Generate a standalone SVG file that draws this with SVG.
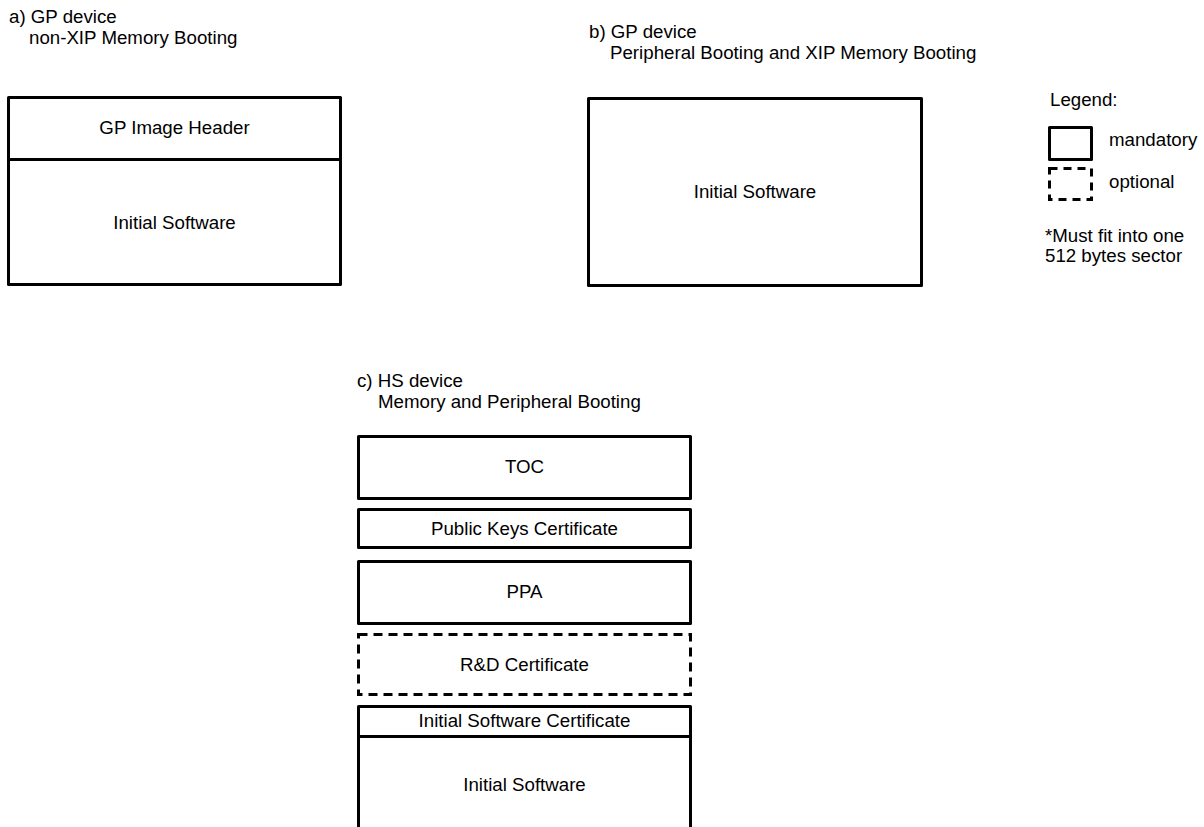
<svg xmlns="http://www.w3.org/2000/svg" width="1204" height="827" viewBox="0 0 1204 827">
<style>
text{font-family:"Liberation Sans",Arial,sans-serif;font-size:18.7px;fill:#000}
.c{text-anchor:middle}
.box{fill:#fff;stroke:#000;stroke-width:3;stroke-linejoin:round}
.dash{fill:#fff;stroke:#000;stroke-width:3;stroke-dasharray:9 6}
.ln{stroke:#000;stroke-width:3}
</style>
<rect width="1204" height="827" fill="#fff"/>
<g id="title-a">
<text x="9" y="23">a) GP device</text>
<text x="29" y="44">non-XIP Memory Booting</text>
</g>
<g id="title-b">
<text x="589" y="38">b) GP device</text>
<text x="610" y="59">Peripheral Booting and XIP Memory Booting</text>
</g>
<g id="title-c">
<text x="357" y="387">c) HS device</text>
<text x="378" y="408">Memory and Peripheral Booting</text>
</g>
<g id="node-a">
<rect class="box" x="8.5" y="97.5" width="332" height="187"/>
<line class="ln" x1="8.5" y1="159.5" x2="340.5" y2="159.5"/>
<text class="c" x="174.5" y="134">GP Image Header</text>
<text class="c" x="174.5" y="229">Initial Software</text>
</g>
<g id="node-b">
<rect class="box" x="588.5" y="98.5" width="333" height="187"/>
<text class="c" x="755" y="198">Initial Software</text>
</g>
<g id="legend">
<text x="1050" y="106">Legend:</text>
<rect class="box" x="1049.5" y="127.5" width="42" height="32"/>
<text x="1109" y="146">mandatory</text>
<rect class="dash" x="1049.5" y="168.5" width="42" height="31" style="stroke-dasharray:8 6"/>
<text x="1109" y="188">optional</text>
<text x="1045" y="242">*Must fit into one</text>
<text x="1045" y="262">512 bytes sector</text>
</g>
<g id="node-toc">
<rect class="box" x="358.5" y="436.5" width="332" height="62"/>
<text class="c" x="524.5" y="473">TOC</text>
</g>
<g id="node-pkc">
<rect class="box" x="358.5" y="509.5" width="332" height="38"/>
<text class="c" x="524.5" y="535">Public Keys Certificate</text>
</g>
<g id="node-ppa">
<rect class="box" x="358.5" y="561.5" width="332" height="62"/>
<text class="c" x="524.5" y="598">PPA</text>
</g>
<g id="node-rd">
<rect class="dash" x="358.5" y="634.5" width="332" height="60"/>
<text class="c" x="524.5" y="671">R&amp;D Certificate</text>
</g>
<g id="node-isw">
<path class="box" d="M358.5,840 V706.5 H690.5 V840"/>
<line class="ln" x1="358.5" y1="736.5" x2="690.5" y2="736.5"/>
<text class="c" x="524.5" y="727">Initial Software Certificate</text>
<text class="c" x="524.5" y="791">Initial Software</text>
</g>
<g id="connectors"></g>
</svg>
